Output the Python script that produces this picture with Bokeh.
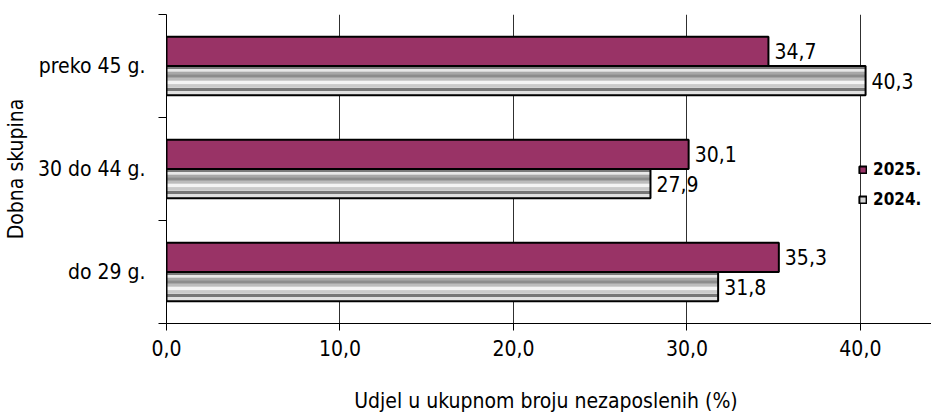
from bokeh.plotting import figure
from bokeh.models import FixedTicker, Legend, LegendItem
from bokeh.embed import file_html
from bokeh.resources import INLINE
from bokeh.core.properties import value

# ---- data ----
categories = ["do 29 g.", "30 do 44 g.", "preko 45 g."]
values_2025 = [35.3, 30.1, 34.7]
values_2024 = [31.8, 27.9, 40.3]
series_names = ["2025.", "2024."]
x_ticks = [0, 10, 20, 30, 40]
x_tick_labels = ["0,0", "10,0", "20,0", "30,0", "40,0"]
x_title = "Udjel u ukupnom broju  nezaposlenih (%)"
y_title = "Dobna skupina"

FONT = "DejaVu Sans Condensed"
FS = "21px"
MAGENTA = "#993366"
BAR_H = 0.285

centers = [i + 0.5 for i in range(len(categories))]
y25 = [c + BAR_H / 2 for c in centers]
y24 = [c - BAR_H / 2 for c in centers]

p = figure(width=931, height=415, x_range=(0, 44.1), y_range=(0, 3),
           output_backend="svg", toolbar_location=None,
           min_border_left=166, min_border_top=14, min_border_right=0,
           min_border_bottom=90)
p.outline_line_color = None
p.background_fill_color = "white"

# grid
p.ygrid.grid_line_color = None
p.xgrid.ticker = FixedTicker(ticks=x_ticks)
p.xgrid.grid_line_color = "#303030"
p.xgrid.grid_line_width = 1

# 2025 bars
r25 = p.hbar(y=y25, height=BAR_H, left=0, right=values_2025,
             fill_color=MAGENTA, line_color="black", line_width=2)

# 2024 bars: striped grey
base24 = p.hbar(y=y24, height=BAR_H, left=0, right=values_2024,
                fill_color="#d4d4d4", line_color=None)
stripes = [
    (0.03, 0.10, "#7a7a7a"),
    (0.10, 0.20, "#e8e8e8"),
    (0.20, 0.28, "#a8a8a8"),
    (0.28, 0.40, "#8c8c8c"),
    (0.40, 0.50, "#bcbcbc"),
    (0.50, 0.62, "#f4f4f4"),
    (0.62, 0.72, "#cacaca"),
    (0.75, 0.85, "#767676"),
    (0.85, 0.97, "#e0e0e0"),
]
for a, b, col in stripes:
    ys = [y + BAR_H / 2 - (a + b) / 2 * BAR_H for y in y24]
    p.hbar(y=ys, height=(b - a) * BAR_H, left=0, right=values_2024,
           fill_color=col, line_color=None)
out24 = p.hbar(y=y24, height=BAR_H, left=0, right=values_2024,
               fill_color=None, line_color="black", line_width=2)

# value labels
lab25 = [f"{v:.1f}".replace(".", ",") for v in values_2025]
lab24 = [f"{v:.1f}".replace(".", ",") for v in values_2024]
p.text(x=values_2025, y=y25, text=lab25, x_offset=6,
       text_align="left", text_baseline="middle",
       text_font=value(FONT), text_font_size=FS, text_color="black")
p.text(x=values_2024, y=y24, text=lab24, x_offset=6,
       text_align="left", text_baseline="middle",
       text_font=value(FONT), text_font_size=FS, text_color="black")

# x axis
xa = p.xaxis[0]
xa.ticker = FixedTicker(ticks=x_ticks)
xa.major_label_overrides = {t: l for t, l in zip(x_ticks, x_tick_labels)}
xa.major_tick_out = 7
xa.major_tick_in = 0
xa.minor_tick_line_color = None
xa.axis_line_color = "black"
xa.major_tick_line_color = "black"
xa.major_label_text_font = FONT
xa.major_label_text_font_size = FS
xa.major_label_text_color = "black"
xa.major_label_standoff = 9
xa.axis_label = x_title
xa.axis_label_text_font = FONT
xa.axis_label_text_font_size = FS
xa.axis_label_text_font_style = "normal"
xa.axis_label_text_color = "black"
xa.axis_label_standoff = 30

# y axis
ya = p.yaxis[0]
ya.ticker = FixedTicker(ticks=centers, minor_ticks=[0, 1, 2, 3])
ya.major_label_overrides = {c: n for c, n in zip(centers, categories)}
ya.major_tick_line_color = None
ya.major_tick_out = 0
ya.major_tick_in = 0
ya.minor_tick_out = 8
ya.minor_tick_in = 0
ya.minor_tick_line_color = "black"
ya.axis_line_color = "black"
ya.major_label_text_font = FONT
ya.major_label_text_font_size = FS
ya.major_label_text_color = "black"
ya.major_label_standoff = 13
ya.axis_label = y_title
ya.axis_label_text_font = FONT
ya.axis_label_text_font_size = FS
ya.axis_label_text_font_style = "normal"
ya.axis_label_text_color = "black"
ya.axis_label_standoff = 7

# legend
legend = Legend(items=[
    LegendItem(label=series_names[0], renderers=[r25]),
    LegendItem(label=series_names[1], renderers=[base24, out24]),
], location=(692, 114), orientation="vertical")
legend.glyph_width = 9
legend.glyph_height = 9
legend.label_height = 20
legend.spacing = 10
legend.padding = 0
legend.margin = 0
legend.label_standoff = 6
legend.label_text_font = FONT
legend.label_text_font_size = "17px"
legend.label_text_font_style = "bold"
legend.label_text_color = "black"
legend.background_fill_alpha = 0
legend.border_line_color = None
p.add_layout(legend, "center")

open("out.html", "w").write(file_html(p, INLINE))
